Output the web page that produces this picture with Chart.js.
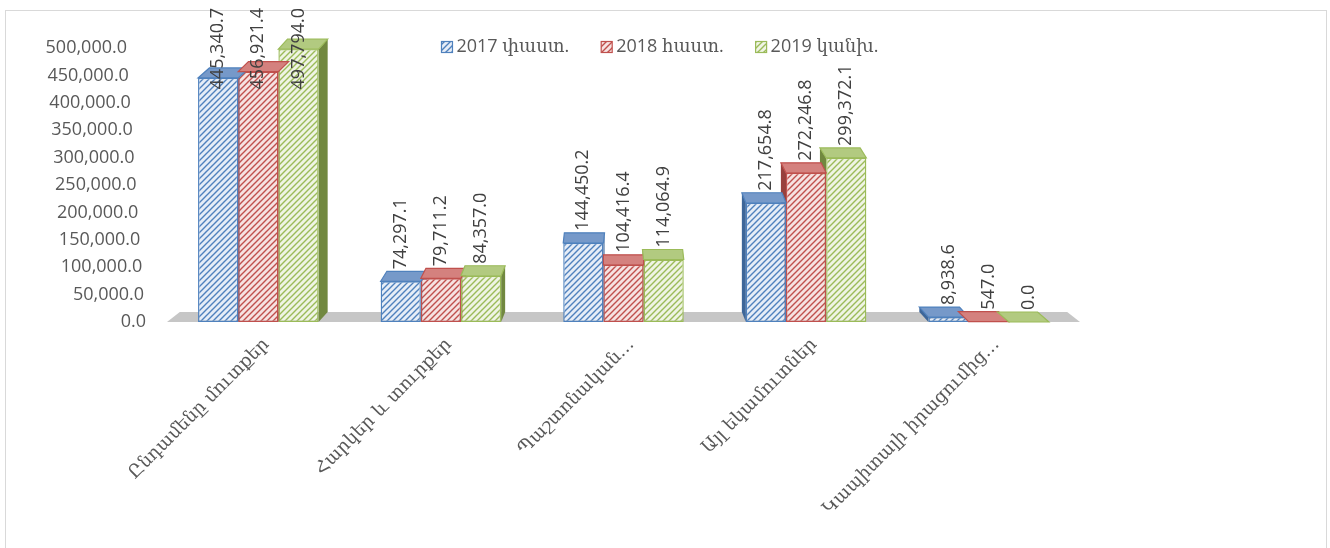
<!DOCTYPE html>
<html>
<head>
<meta charset="utf-8">
<script src="https://cdn.jsdelivr.net/npm/chart.js"></script>
<style>
  html, body { margin: 0; padding: 0; background: #fff; overflow: hidden; }
  #frame { position: absolute; left: 5px; top: 10px; width: 1320px; height: 600px; border: 1px solid #D9D9D9; }
  #wrap { position: absolute; left: 0; top: 0; width: 1330px; height: 548px; }
</style>
</head>
<body>
<div id="frame"></div>
<div id="wrap"><canvas id="chart"></canvas></div>
<script>
// data
const categories = ['Ընդամենը մուտքեր', 'Հարկեր և տուրքեր', 'Պաշտոնական…', 'Այլ եկամուտներ', 'Կապիտալի իրացումից…'];
const seriesNames = ['2017 փաստ.', '2018 հաստ.', '2019 կանխ.'];
const fact2017 = [445340.7, 74297.1, 144450.2, 217654.8, 8938.6];
const plan2018 = [456921.4, 79711.2, 104416.4, 272246.8, 547.0];
const plan2019 = [497794.0, 84357.0, 114064.9, 299372.1, 0.0];
const yMin = 0, yMax = 500000, yStep = 50000;

const palette = [
    { line: '#4F81BD', bg: '#E6EDF7', top: '#7699C9', side: '#3D6699' },
    { line: '#C0504D', bg: '#F6E2E1', top: '#D4817E', side: '#98403D' },
    { line: '#9BBB59', bg: '#EFF4E4', top: '#B2CA80', side: '#71883F' }
];

const numFont = '"Open Sans", "DejaVu Serif", sans-serif';
const armFont = '"DejaVu Serif", serif';

function fmt(v) {
    return v.toLocaleString('en-US', { minimumFractionDigits: 1, maximumFractionDigits: 1 });
}

// diagonal hatch like the Excel pattern fill
function makePattern(line, bg) {
    const c = document.createElement('canvas');
    c.width = 6; c.height = 6;
    const g = c.getContext('2d');
    g.fillStyle = bg;
    g.fillRect(0, 0, 6, 6);
    g.strokeStyle = line;
    g.lineWidth = 1.4;
    g.beginPath();
    g.moveTo(0, 6); g.lineTo(6, 0);
    g.moveTo(-3, 3); g.lineTo(3, -3);
    g.moveTo(3, 9); g.lineTo(9, 3);
    g.stroke();
    return g.createPattern(c, 'repeat');
}

const patterns = palette.map(p => makePattern(p.line, p.bg));
const seriesData = [fact2017, plan2018, plan2019];

const DEPTH = 10;
const VP = 0.028;
function shiftX(chart, x) {
    const cx = (chart.chartArea.left + chart.chartArea.right) / 2;
    return (cx - x) * VP;
}

function poly(ctx, pts) {
    ctx.beginPath();
    ctx.moveTo(pts[0][0], pts[0][1]);
    for (let i = 1; i < pts.length; i++) ctx.lineTo(pts[i][0], pts[i][1]);
    ctx.closePath();
}

// floor + side faces behind the bars, top faces and labels on top
const fake3d = {
    id: 'fake3d',
    beforeDatasetsDraw(chart) {
        const ctx = chart.ctx;
        const base = chart.scales.y.getPixelForValue(0);
        const L = chart.chartArea.left, R = chart.chartArea.right;
        ctx.save();
        ctx.fillStyle = '#C6C6C6';
        poly(ctx, [[L, base], [R, base], [R + shiftX(chart, R), base - DEPTH], [L + shiftX(chart, L), base - DEPTH]]);
        ctx.fill();

        chart.data.datasets.forEach((ds, j) => {
            chart.getDatasetMeta(j).data.forEach(bar => {
                const dx = shiftX(chart, bar.x);
                const edge = dx > 0 ? bar.x + bar.width / 2 : bar.x - bar.width / 2;
                ctx.fillStyle = palette[j].side;
                poly(ctx, [[edge, bar.y], [edge + dx, bar.y - DEPTH], [edge + dx, bar.base - DEPTH], [edge, bar.base]]);
                ctx.fill();
            });
        });
        ctx.restore();
    },
    afterDatasetsDraw(chart) {
        const ctx = chart.ctx;
        ctx.save();
        chart.data.datasets.forEach((ds, j) => {
            chart.getDatasetMeta(j).data.forEach(bar => {
                const dx = shiftX(chart, bar.x);
                const l = bar.x - bar.width / 2, r = bar.x + bar.width / 2;
                poly(ctx, [[l, bar.y], [r, bar.y], [r + dx, bar.y - DEPTH], [l + dx, bar.y - DEPTH]]);
                ctx.fillStyle = palette[j].top;
                ctx.fill();
                ctx.strokeStyle = palette[j].line;
                ctx.lineWidth = 1.2;
                ctx.stroke();
            });
        });

        // value labels, rotated
        ctx.font = '18px ' + numFont;
        ctx.fillStyle = '#404040';
        ctx.textAlign = 'left';
        ctx.textBaseline = 'middle';
        chart.data.datasets.forEach((ds, j) => {
            chart.getDatasetMeta(j).data.forEach((bar, i) => {
                const txt = fmt(ds.data[i]);
                const w = ctx.measureText(txt).width;
                let y = bar.y - DEPTH - 2;
                if (y - w < 8) y = 8 + w;
                ctx.save();
                ctx.translate(bar.x, y);
                ctx.rotate(-Math.PI / 2);
                ctx.fillText(txt, 0, 0);
                ctx.restore();
            });
        });
        ctx.restore();
    },
    afterDraw(chart) {
        const ctx = chart.ctx;
        ctx.save();
        // y tick labels (slight perspective lean like the original)
        const ys = chart.scales.y;
        ctx.font = '18px ' + numFont;
        ctx.fillStyle = '#595959';
        ctx.textAlign = 'right';
        ctx.textBaseline = 'middle';
        ys.ticks.forEach(t => {
            const y = ys.getPixelForValue(t.value);
            const x = ys.right - 21 - 19 * (t.value / yMax);
            ctx.fillText(fmt(t.value), x, y);
        });

        // legend
        const box = 11, gap = 4, spacing = 32;
        const widths = chart.data.datasets.map(d => box + gap + ctx.measureText(d.label).width);
        const total = widths.reduce((a, b) => a + b, 0) + spacing * (widths.length - 1);
        let x = chart.width / 2 - 5 - total / 2;
        const ly = 47;
        ctx.textAlign = 'left';
        chart.data.datasets.forEach((d, j) => {
            ctx.fillStyle = patterns[j];
            ctx.fillRect(x, ly - box / 2, box, box);
            ctx.strokeStyle = palette[j].line;
            ctx.lineWidth = 1.2;
            ctx.strokeRect(x, ly - box / 2, box, box);
            ctx.fillStyle = '#595959';
            ctx.fillText(d.label, x + box + gap, ly);
            x += widths[j] + spacing;
        });
        ctx.restore();
    }
};

new Chart(document.getElementById('chart'), {
    type: 'bar',
    data: {
        labels: categories,
        datasets: seriesNames.map((name, j) => ({
            label: name,
            data: seriesData[j],
            backgroundColor: patterns[j],
            borderColor: palette[j].line,
            borderWidth: 1.4,
            borderSkipped: false,
            categoryPercentage: 0.66,
            barPercentage: 1.0
        }))
    },
    options: {
        responsive: true,
        maintainAspectRatio: false,
        animation: false,
        layout: { padding: { left: 0, right: 250, top: 48, bottom: 0 } },
        plugins: {
            legend: { display: false },
            tooltip: { enabled: false }
        },
        scales: {
            x: {
                grid: { display: false, drawTicks: false },
                border: { display: false },
                ticks: {
                    autoSkip: false,
                    maxRotation: 45,
                    minRotation: 45,
                    padding: 12,
                    labelOffset: 8,
                    color: '#595959',
                    font: { family: armFont, size: 18 }
                },
                afterFit(s) { s.height = 226; }
            },
            y: {
                min: yMin,
                max: yMax,
                grid: { display: false, drawTicks: false },
                border: { display: false },
                ticks: { stepSize: yStep, display: false },
                afterFit(s) { s.width = 167; }
            }
        }
    },
    plugins: [fake3d]
});
</script>
</body>
</html>
